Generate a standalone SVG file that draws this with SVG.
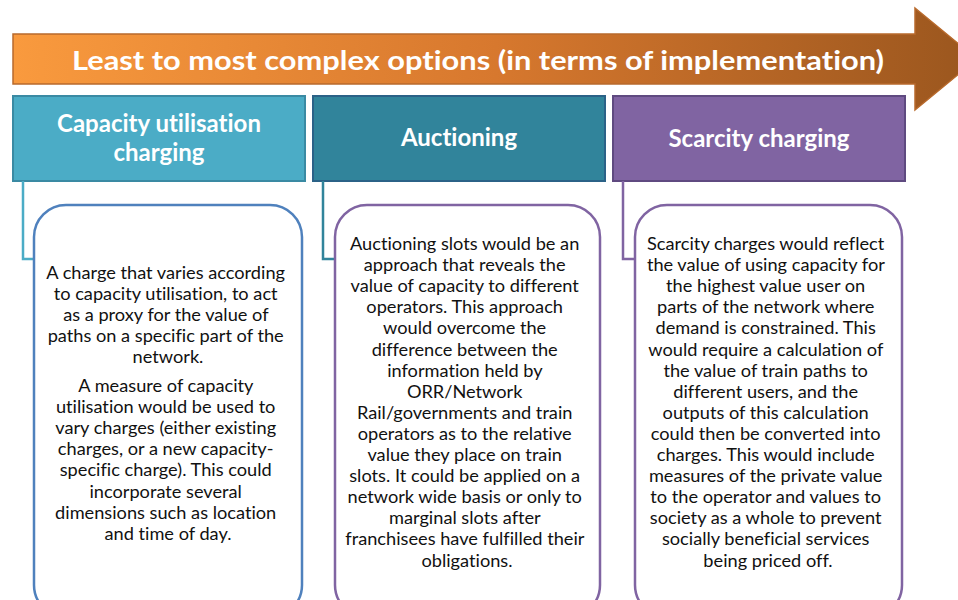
<svg xmlns="http://www.w3.org/2000/svg" width="958" height="600" viewBox="0 0 958 600">
<defs>
<linearGradient id="arrowGrad" x1="13" y1="0" x2="978" y2="0" gradientUnits="userSpaceOnUse">
<stop offset="0" stop-color="#F99A3E"/>
<stop offset="0.5" stop-color="#D7782E"/>
<stop offset="1" stop-color="#9A561E"/>
</linearGradient>
<style>
text{font-variant-ligatures:none}
.title{font-family:Lato,"Open Sans",sans-serif;font-weight:bold;font-size:27px;fill:#fff;text-anchor:middle}
.head{font-family:Lato,"Open Sans",sans-serif;font-weight:bold;font-size:24px;fill:#fff;text-anchor:middle}
.body{font-family:Lato,"Open Sans",sans-serif;font-size:18.2px;fill:#111;text-anchor:middle}
.conn{fill:none;stroke-width:2.5}
.card{fill:#fff;stroke-width:2.5}
</style>
</defs>
<rect width="958" height="600" fill="#fff"/>
<g id="arrow">
<path d="M13,34 L915,34 L915,8 L977,59 L915,110 L915,84 L13,84 Z" fill="url(#arrowGrad)" stroke="#B86A2C" stroke-width="1.5"/>
<text class="title" x="478" y="70" textLength="812" lengthAdjust="spacingAndGlyphs">Least to most complex options (in terms of implementation)</text>
</g>
<g id="head1">
<rect x="13" y="96" width="292" height="85" fill="#4BACC6" stroke="#3A8AA3" stroke-width="2"/>
<text class="head" x="159" y="132">Capacity utilisation</text>
<text class="head" x="159" y="161">charging</text>
</g>
<g id="head2">
<rect x="313" y="96" width="292" height="85" fill="#31849B" stroke="#2B6287" stroke-width="2"/>
<text class="head" x="459" y="146">Auctioning</text>
</g>
<g id="head3">
<rect x="613" y="96" width="292" height="85" fill="#8064A2" stroke="#5F4A80" stroke-width="2"/>
<text class="head" x="759" y="147">Scarcity charging</text>
</g>
<g id="connectors">
<path class="conn" d="M23,181 L23,259 L34,259" stroke="#4BACC6"/>
<path class="conn" d="M323,181 L323,259 L336,259" stroke="#31849B"/>
<path class="conn" d="M623,181 L623,259 L636,259" stroke="#8064A2"/>
</g>
<g id="card1">
<rect class="card" x="34" y="205" width="268" height="412" rx="32" ry="32" stroke="#4F81BD"/>
<text class="body" x="168" y="279">
<tspan x="168">A charge that varies according</tspan>
<tspan x="168" dy="20.9">to capacity utilisation, to act</tspan>
<tspan x="168" dy="20.9">as a proxy for the value of</tspan>
<tspan x="168" dy="20.9">paths on a specific part of the</tspan>
<tspan x="168" dy="20.9">network.</tspan>
</text>
<text class="body" x="168" y="392">
<tspan x="168">A measure of capacity</tspan>
<tspan x="168" dy="21.1">utilisation would be used to</tspan>
<tspan x="168" dy="21.1">vary charges (either existing</tspan>
<tspan x="168" dy="21.1">charges, or a new capacity-</tspan>
<tspan x="168" dy="21.1">specific charge). This could</tspan>
<tspan x="168" dy="21.1">incorporate several</tspan>
<tspan x="168" dy="21.1">dimensions such as location</tspan>
<tspan x="168" dy="21.1">and time of day.</tspan>
</text>
</g>
<g id="card2">
<rect class="card" x="335" y="205" width="265" height="412" rx="32" ry="32" stroke="#8064A2"/>
<text class="body" x="467" y="250">
<tspan x="467">Auctioning slots would be an</tspan>
<tspan x="467" dy="21.1">approach that reveals the</tspan>
<tspan x="467" dy="21.1">value of capacity to different</tspan>
<tspan x="467" dy="21.1">operators. This approach</tspan>
<tspan x="467" dy="21.1">would overcome the</tspan>
<tspan x="467" dy="21.1">difference between the</tspan>
<tspan x="467" dy="21.1">information held by</tspan>
<tspan x="467" dy="21.1">ORR/Network</tspan>
<tspan x="467" dy="21.1">Rail/governments and train</tspan>
<tspan x="467" dy="21.1">operators as to the relative</tspan>
<tspan x="467" dy="21.1">value they place on train</tspan>
<tspan x="467" dy="21.1">slots. It could be applied on a</tspan>
<tspan x="467" dy="21.1">network wide basis or only to</tspan>
<tspan x="467" dy="21.1">marginal slots after</tspan>
<tspan x="467" dy="21.1">franchisees have fulfilled their</tspan>
<tspan x="467" dy="21.1">obligations.</tspan>
</text>
</g>
<g id="card3">
<rect class="card" x="635" y="205" width="267" height="412" rx="32" ry="32" stroke="#8064A2"/>
<text class="body" x="768" y="250">
<tspan x="768">Scarcity charges would reflect</tspan>
<tspan x="768" dy="21.1">the value of using capacity for</tspan>
<tspan x="768" dy="21.1">the highest value user on</tspan>
<tspan x="768" dy="21.1">parts of the network where</tspan>
<tspan x="768" dy="21.1">demand is constrained. This</tspan>
<tspan x="768" dy="21.1">would require a calculation of</tspan>
<tspan x="768" dy="21.1">the value of train paths to</tspan>
<tspan x="768" dy="21.1">different users, and the</tspan>
<tspan x="768" dy="21.1">outputs of this calculation</tspan>
<tspan x="768" dy="21.1">could then be converted into</tspan>
<tspan x="768" dy="21.1">charges. This would include</tspan>
<tspan x="768" dy="21.1">measures of the private value</tspan>
<tspan x="768" dy="21.1">to the operator and values to</tspan>
<tspan x="768" dy="21.1">society as a whole to prevent</tspan>
<tspan x="768" dy="21.1">socially beneficial services</tspan>
<tspan x="768" dy="21.1">being priced off.</tspan>
</text>
</g>
</svg>
